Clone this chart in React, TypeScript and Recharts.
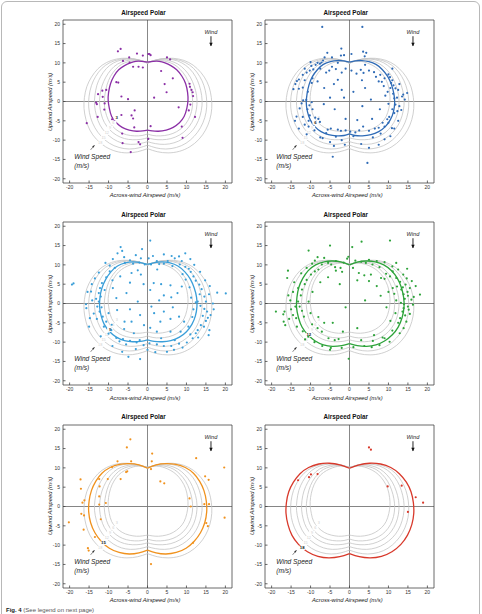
import React from 'react';
import { ScatterChart, Scatter, XAxis, YAxis, ReferenceLine } from 'recharts';

type Pt = [number, number];

const AXIS_TICKS = [-20, -15, -10, -5, 0, 5, 10, 15, 20];
const X_DOMAIN: [number, number] = [-21.7, 21.7];
const Y_DOMAIN: [number, number] = [-21.1, 21.1];

const TITLE = 'Airspeed Polar';
const X_LABEL = 'Across-wind Airspeed (m/s)';
const Y_LABEL = 'Upwind Airspeed (m/s)';
const WIND_SPEEDS = [3, 6, 9, 12, 15, 18];
const PANEL_COLORS = ['#8b2fa6', '#2f6bb6', '#3a9ed8', '#2ea33b', '#f0921e', '#d8392b'];

// polar curves: right half (top cusp -> bottom cusp), then left half (-> top cusp)
const POLAR_3: Pt[] = [[0,10.2],[1.5,10.4],[3.0,10.4],[4.5,10.0],[6.0,9.3],[7.5,8.2],[8.8,6.6],[9.8,4.6],[10.3,2.3],[10.4,0.3],[10.1,-1.8],[9.4,-3.9],[8.2,-5.5],[6.6,-6.7],[4.8,-7.4],[2.8,-7.7],[1.2,-7.6],[0,-7.4],
  [-1.2,-7.6],[-2.8,-7.7],[-4.7,-7.4],[-6.5,-6.7],[-8.0,-5.5],[-9.2,-3.9],[-9.8,-1.8],[-10.1,0.3],[-10.0,2.3],[-9.5,4.6],[-8.6,6.6],[-7.4,8.2],[-5.9,9.3],[-4.4,10.0],[-3.0,10.4],[-1.5,10.4],[0,10.2]];
const POLAR_6: Pt[] = [[0,10.2],[1.5,10.5],[3.2,10.6],[5.0,10.3],[6.8,9.6],[8.4,8.3],[9.8,6.5],[10.8,4.3],[11.4,2.0],[11.6,-0.3],[11.3,-2.6],[10.5,-4.7],[9.2,-6.5],[7.5,-7.8],[5.5,-8.6],[3.3,-8.9],[1.4,-8.8],[0,-8.4],
  [-1.4,-8.8],[-3.3,-8.9],[-5.4,-8.6],[-7.3,-7.8],[-8.9,-6.5],[-10.1,-4.7],[-10.8,-2.6],[-11.1,-0.3],[-10.9,2.0],[-10.4,4.3],[-9.5,6.5],[-8.2,8.3],[-6.7,9.6],[-4.9,10.3],[-3.2,10.6],[-1.5,10.5],[0,10.2]];
const POLAR_9: Pt[] = [[0,10.1],[1.8,10.6],[3.8,10.8],[5.8,10.5],[7.8,9.7],[9.6,8.2],[11.0,6.3],[12.0,4.0],[12.6,1.6],[12.7,-0.8],[12.3,-3.2],[11.4,-5.4],[10.0,-7.3],[8.2,-8.7],[6.0,-9.6],[3.8,-9.9],[1.7,-9.8],[0,-9.4],
  [-1.7,-9.8],[-3.8,-9.9],[-5.9,-9.6],[-8.0,-8.7],[-9.7,-7.3],[-11.1,-5.4],[-11.9,-3.2],[-12.3,-0.8],[-12.2,1.6],[-11.7,4.0],[-10.7,6.3],[-9.4,8.2],[-7.7,9.7],[-5.7,10.5],[-3.8,10.8],[-1.8,10.6],[0,10.1]];
const POLAR_12: Pt[] = [[0,10.0],[2.0,10.7],[4.3,11.0],[6.6,10.8],[8.8,10.0],[10.8,8.5],[12.3,6.5],[13.3,4.2],[13.9,1.6],[14.0,-1.0],[13.5,-3.7],[12.5,-6.1],[11.0,-8.1],[9.0,-9.7],[6.8,-10.7],[4.4,-11.1],[2.0,-10.9],[0,-10.4],
  [-2.0,-10.9],[-4.4,-11.1],[-6.7,-10.7],[-8.8,-9.7],[-10.7,-8.1],[-12.2,-6.1],[-13.1,-3.7],[-13.6,-1.0],[-13.5,1.6],[-13.0,4.2],[-12.0,6.5],[-10.6,8.5],[-8.7,10.0],[-6.5,10.8],[-4.3,11.0],[-2.0,10.7],[0,10.0]];
const POLAR_15: Pt[] = [[0,9.9],[2.2,10.8],[4.8,11.1],[7.3,10.9],[9.7,10.1],[11.8,8.6],[13.4,6.5],[14.5,4.1],[15.1,1.4],[15.2,-1.4],[14.7,-4.2],[13.6,-6.8],[12.0,-9.0],[9.9,-10.8],[7.4,-11.9],[4.7,-12.3],[2.2,-12.0],[0,-11.3],
  [-2.2,-12.0],[-4.7,-12.3],[-7.3,-11.9],[-9.8,-10.8],[-11.9,-9.0],[-13.5,-6.8],[-14.6,-4.2],[-15.1,-1.4],[-15.0,1.4],[-14.4,4.1],[-13.3,6.5],[-11.7,8.6],[-9.6,10.1],[-7.2,10.9],[-4.8,11.1],[-2.2,10.8],[0,9.9]];
const POLAR_18: Pt[] = [[0,9.9],[2.5,10.8],[5.2,11.2],[8.0,11.0],[10.6,10.1],[12.8,8.5],[14.6,6.3],[15.8,3.8],[16.4,1.0],[16.5,-1.8],[16.0,-4.7],[14.9,-7.4],[13.2,-9.8],[10.9,-11.7],[8.2,-12.9],[5.3,-13.3],[2.5,-13.0],[0,-12.2],
  [-2.5,-13.0],[-5.3,-13.3],[-8.1,-12.9],[-10.8,-11.7],[-13.1,-9.8],[-14.8,-7.4],[-15.8,-4.7],[-16.3,-1.8],[-16.2,1.0],[-15.6,3.8],[-14.4,6.3],[-12.7,8.5],[-10.5,10.1],[-7.9,11.0],[-5.2,11.2],[-2.5,10.8],[0,9.9]];
const POLARS = [POLAR_3, POLAR_6, POLAR_9, POLAR_12, POLAR_15, POLAR_18];

const SPEED_LABEL_POS: Pt[] = [[-7.9,-4.2],[-8.75,-5.5],[-9.6,-6.8],[-10.45,-8.1],[-11.3,-9.4],[-12.15,-10.7]];
const WIND_TEXT_POS: Pt = [16.3, 17.9];
const WIND_ARROW: Pt[] = [[16.3, 16.9], [16.3, 14.4]];
const SPEED_TEXT_POS: Pt[] = [[-18.8, -14.4], [-18.8, -16.6]];
const SPEED_TEXT = ['Wind Speed', '(m/s)'];
const SPEED_ARROW: Pt[] = [[-14.6, -12.5], [-13.6, -11.3]];

const OBS_3: Pt[] = [[-7.6,13.0],[-6.9,13.6],[-4.7,11.4],[-2.7,12.4],[-1.2,11.9],[0.2,12.3],[0.5,12.3],[0.8,12.0],[-6.3,10.5],[-4.6,10.1],[-3.7,9.0],[-2.3,9.0],[-1.2,8.8],[5.0,11.4],[5.8,10.9],[3.5,7.9],[4.4,4.5],[6.5,6.0],[4.9,2.4],[-8.0,5.0],[-7.5,4.9],[10.8,4.6],[10.9,3.8],[11.3,3.0],[11.6,2.4],[11.7,1.4],[-11.6,2.8],[-10.6,3.0],[-12.7,1.9],[-11.5,1.2],[-13.2,-0.3],[-13.0,-0.7],[-11.0,-0.5],[-11.1,-2.1],[-6.7,1.3],[-5.0,0.6],[1.7,1.0],[8.0,-1.5],[10.6,-2.3],[11.0,-0.8],[12.2,-4.0],[-12.8,-4.0],[-9.1,-4.6],[-6.7,-3.5],[-3.3,-2.3],[-3.7,-4.4],[-3.4,-6.7],[-6.5,-8.3],[-6.4,-10.8],[-2.3,-10.5],[-1.9,-11.1],[0.2,-9.7],[0.8,-6.4],[9.0,-9.4],[8.8,-6.5],[-15.6,-5.6],[-4.3,-13.1],[-4.1,-3.6]];

const OBS_6: Pt[] = [[-7.0,19.3],[3.3,19.3],[4.6,-15.9],[-4.3,-14.3],[0.5,12.3],[-2.1,13.7],[4.3,12.6],[3.9,11.7],[3.5,12.9],
  [-5.7,12.6],[-6.4,11.4],[-4.5,11.4],[-2.2,11.9],[-1.4,12.0],[-6.8,10.6],[-7.2,10.1],[-7.6,9.8],[-8.2,10.0],[-8.7,9.5],[-9.3,8.3],[-9.8,9.2],[-10.2,8.0],[-11.0,7.5],[-12.0,6.9],[-13.0,5.7],[-13.5,5.3],[-13.9,4.5],[-14.4,3.2],[-13.0,3.3],[-12.0,3.6],[-10.7,2.5],[-9.7,4.8],[-9.5,6.0],[-8.2,5.2],[-7.5,8.5],[-6.0,7.5],[-4.5,9.0],[-3.5,8.4],[-3.0,10.0],[-2.0,7.5],[-1.0,8.5],[0.5,8.0],[1.8,7.2],[2.9,8.2],[3.6,7.4],[4.0,9.5],[5.0,8.0],[6.3,7.6],[6.8,6.4],[7.5,5.2],[8.3,5.1],[7.9,6.9],[9.0,6.0],[10.0,7.0],[10.4,6.3],[11.0,5.5],[10.7,4.8],[11.3,4.2],[11.8,3.4],[10.5,3.5],[12.5,3.0],[11.2,2.0],[12.2,1.0],[13.8,1.8],[14.2,0.5],[11.5,0.8],[10.0,-0.6],[11.8,-0.8],[12.8,-1.2],[11.0,-2.0],[11.5,-3.0],[10.2,-4.0],[9.7,-4.6],[10.0,-5.5],[9.0,-6.5],[8.5,-5.5],[7.5,-6.8],[6.5,-7.0],[5.0,-7.6],[3.5,-6.5],[2.5,-7.5],[1.5,-8.0],[0.2,-7.8],[-1.0,-7.5],[-2.2,-7.6],[-3.0,-7.3],[-4.8,-7.0],[-5.6,-7.3],[-7.6,-5.3],[-8.0,-4.5],[-10.2,-3.6],[-10.8,-2.0],[-10.3,-1.0],[-9.7,-0.2],[-11.1,0.4],[-11.9,0.3],[-12.3,-0.5],[-12.8,-1.8],[-13.6,-3.9],[-14.0,-5.0],[-12.0,-4.0],[-11.5,-6.0],[-10.5,-6.5],[-9.0,-7.5],[-7.5,-9.3],[-6.9,-9.5],[-5.0,-10.5],[-4.0,-11.5],[-2.0,-10.0],[-1.2,-11.2],[1.0,-9.0],[3.0,-11.0],[5.0,-12.0],[7.5,-11.2],[9.0,-9.8],[10.5,-9.0],[11.5,-7.0],[12.5,-5.0],[13.3,-2.2],[13.5,1.3],[12.8,4.5],[14.8,2.2],[7.8,-2.0],[5.8,-4.5],[3.3,-1.2],[2.0,-4.8],[-1.0,-4.5],[-3.8,-2.0],[-5.0,1.0],[-6.6,-0.7],[-2.0,3.0],[-1.4,1.0],[1.0,2.5],[4.0,3.5],[5.5,0.5],[3.2,5.5],[-4.0,4.5],[-3.0,5.6],[-6.5,3.5],[-11.5,5.5],[-10.5,-5.0],[-9.5,-2.0],[-8.8,-4.2],[-11.0,-8.5],[-13.0,-7.0],[-10.0,10.2],[-11.5,8.5],[-5.2,8.0],[8.8,4.0],[9.2,1.5],[10.9,-6.9],[8.0,-8.3],[6.0,-9.3],[-3.5,-9.1],[-6.0,-8.2],[9.8,2.5],[12.3,-2.5],[11.0,8.5]];

const OBS_9: Pt[] = [[0.7,16.3],[-6.9,14.6],[-6.5,13.6],[-1.4,14.1],[-1.7,11.7],[0.3,11.7],[1.4,12.3],[4.2,12.7],[6.2,12.3],[7.0,11.7],[8.1,12.2],[9.7,13.0],[-7.7,13.0],[-8.9,11.5],[-9.7,9.8],[-5.8,10.5],[-3.7,10.3],[-2.1,10.6],[-0.7,10.1],[0.9,10.1],[2.4,11.0],[4.2,10.3],[6.4,9.7],[8.3,10.1],[9.7,9.5],[10.6,9.0],[11.1,8.2],[11.8,7.0],[12.4,5.9],[13.3,4.9],[13.9,3.7],[13.4,2.4],[14.6,1.8],[15.0,0.5],[15.8,2.4],[12.9,0.5],[12.4,0.3],[13.6,-0.6],[14.6,-1.4],[15.3,-2.1],[14.2,-3.2],[15.0,-4.5],[15.5,-3.7],[13.7,-5.6],[12.9,-6.9],[12.4,-7.7],[11.6,-9.0],[10.1,-10.1],[8.1,-10.4],[6.1,-11.0],[4.2,-11.0],[2.4,-10.6],[0.5,-10.3],[-1.0,-10.8],[-2.8,-10.1],[-4.5,-9.7],[-6.3,-9.2],[-8.0,-8.9],[-9.3,-6.9],[-10.6,-4.7],[-11.5,-3.4],[-12.3,-2.1],[-12.9,-0.8],[-12.5,0.5],[-13.2,1.2],[-12.5,2.7],[-12.2,4.0],[-11.7,5.3],[-10.6,6.8],[-9.7,8.3],[-8.4,9.2],[-14.5,3.1],[-15.4,3.0],[-15.8,-0.2],[-15.7,-1.2],[-19.0,5.2],[-19.4,4.9],[20.1,2.6],[17.9,2.8],[15.9,-6.9],[5.0,-12.5],[-1.9,-14.4],[-4.9,-13.8],[-15.0,-6.0],
  [-4.1,7.9],[-1.7,7.5],[-4.5,5.4],[1.6,5.3],[3.5,5.0],[5.9,4.7],[0.7,3.5],[-5.4,2.7],[4.2,2.1],[6.1,1.6],[7.7,2.7],[8.8,4.4],[9.8,6.2],[4.2,-2.1],[1.7,-2.5],[-1.9,-3.0],[-4.1,-4.7],[-0.9,-5.6],[0.7,-6.3],[3.3,-4.7],[5.9,-4.0],[8.1,-3.4],[9.4,-4.7],[8.5,-7.3],[5.9,-7.3],[2.4,-7.3],[-3.5,-7.7],[-5.9,-4.7],[-7.8,-1.7],[-8.0,1.4],[-8.9,4.0],
  [-11.8,-1.0],[-12.0,1.8],[-11.0,3.5],[-13.8,-2.6],[-14.2,0.8],[-13.0,-4.0],[-11.2,-6.0],[-10.0,-7.8],[-7.2,-9.8],[-5.5,-10.6],[-3.0,-11.8],[0.0,-12.0],[2.0,-12.6],[6.8,-12.0],[9.0,-11.4],[11.0,-8.0],[13.0,-8.8],[14.5,-6.0],[16.2,-3.0],[16.8,0.0],[17.0,-1.5],[16.0,4.5],[14.8,6.0],[13.5,8.2],[12.0,10.0],[11.0,11.5],[8.8,11.0],[5.2,11.0],[3.0,10.2],[-3.0,12.5],[-4.5,11.2],[-6.0,12.0],[-10.8,10.5],[-12.5,8.0],[-13.5,6.5],[-14.3,5.0],[-14.8,-3.8],[-12.0,-8.5],[-9.0,-11.0],[-6.5,-12.5],[-2.0,-9.5],[3.5,-9.0],[7.0,-9.5],[10.5,-6.0],[11.5,-3.5],[11.8,-1.5],[11.2,1.5],[10.8,4.2],[9.0,7.6],[-7.0,7.0],[-9.0,6.0],[-10.0,-2.5],[-9.2,-5.5],[-6.0,-6.6],[-2.5,0.5],[1.0,-0.8],[3.0,0.8],[-1.0,5.0],[-4.5,-1.5],[6.5,-1.0],[2.5,8.8],[-2.5,8.6],[15.7,-8.2]];

const OBS_12: Pt[] = [[10.4,16.3],[3.1,16.0],[0.7,14.6],[-5.0,15.0],[-10.5,13.7],[-8.2,12.0],[-8.9,11.1],[-9.6,10.3],[-0.3,12.1],[-0.6,11.6],[4.2,10.5],[5.9,10.1],[7.7,9.4],[-4.7,10.1],[-3.5,8.5],[-1.9,8.2],[-2.3,9.2],[-3.7,9.4],[0.9,9.2],[2.4,7.9],[3.8,7.3],[5.5,7.5],[8.1,6.6],[9.0,6.4],[9.4,7.7],[10.4,7.0],[11.1,8.3],[12.0,6.6],[13.0,5.6],[13.7,4.2],[12.2,4.4],[11.1,4.0],[13.3,3.6],[13.9,2.4],[14.9,3.0],[15.5,4.0],[14.4,4.9],[15.9,1.0],[16.3,-0.3],[15.0,-0.8],[13.9,-1.2],[13.6,-2.1],[14.3,-3.1],[14.6,-4.7],[13.9,-6.4],[12.9,-7.7],[10.3,-9.9],[7.7,-10.8],[5.7,-11.3],[3.8,-11.0],[-0.2,-14.3],[-2.8,-9.2],[-3.8,-9.5],[-5.4,-9.0],[-7.1,-7.3],[-8.2,-6.4],[-9.6,-5.4],[-11.7,-3.4],[-12.2,-1.9],[-12.8,-0.8],[-13.2,0.5],[-12.5,2.1],[-12.2,3.6],[-11.5,5.0],[-11.0,6.1],[-9.9,7.5],[-8.9,8.3],[-8.0,8.8],[-7.1,10.1],[-15.8,8.5],[-16.0,6.6],[-16.7,-2.1],[-17.0,-2.8],[-16.9,-4.7],[-16.5,-5.6],[-18.9,-2.1],[-13.9,-0.8],[-13.7,-3.8],[-15.7,2.1],[-13.2,4.0],[-10.6,-8.6],[-1.7,-7.3],[2.0,-6.4],[-4.3,-5.0],[6.3,-8.2],[9.0,-9.0],[18.1,2.3],[-4.8,-11.5],
  [15.0,2.0],[14.2,1.2],[13.2,0.2],[14.0,-0.2],[15.2,-1.6],[13.0,-3.8],[12.5,-5.0],[15.5,-2.7],[16.5,1.7],[17.0,4.5],[16.0,5.8],[14.7,6.5],[13.8,7.5],[12.5,8.8],[11.0,9.6],[9.0,10.7],[7.0,11.0],[5.0,11.3],[3.0,10.8],[1.5,11.1],[-1.5,10.6],[-3.5,11.0],[-5.5,10.5],[-6.5,11.8],[-11.0,9.2],[-12.4,7.8],[-14.2,5.5],[-14.5,3.0],[-15.2,0.8],[-15.0,-1.5],[-14.5,-3.0],[-15.5,-4.0],[-13.5,-6.0],[-12.0,-7.2],[-11.4,-9.3],[-9.0,-10.0],[-7.0,-11.0],[-5.0,-12.0],[-2.0,-11.5],[1.0,-11.3],[3.0,-9.5],[6.0,-9.7],[8.5,-8.8],[11.0,-7.0],[11.8,-2.5],[12.0,0.8],[11.5,2.5],[10.0,3.0],[8.0,2.0],[7.0,4.5],[5.0,5.8],[2.0,6.0],[-2.5,5.0],[-5.5,6.8],[-7.5,5.5],[-9.5,3.0],[-10.5,0.5],[-10.0,-2.5],[-8.0,-3.5],[-6.5,-5.0],[10.5,-4.5],[9.5,-1.0],[4.0,0.8],[-1.0,-1.0],[12.0,10.5],[14.8,9.0]];

const OBS_15: Pt[] = [[-4.4,17.4],[-5.3,15.3],[-7.7,11.7],[-4.2,11.7],[-5.2,9.1],[-5.5,8.9],[-6.9,7.1],[-9.1,10.2],[-12.4,7.1],[-12.3,5.2],[-10.2,7.1],[-12.4,2.6],[-12.4,0.5],[-12.0,-3.3],[-10.7,0.9],[-13.5,-7.9],[-17.1,4.6],[-17.2,7.0],[-16.7,1.0],[-16.2,1.6],[-17.0,-1.9],[-16.3,-2.3],[-16.4,-6.0],[-20.2,-4.1],[-15.3,-10.8],[-15.1,-11.4],[1.2,13.7],[1.1,11.7],[0.9,9.7],[3.3,6.5],[4.3,6.0],[12.5,12.5],[14.8,7.8],[15.7,6.9],[19.7,10.1],[10.8,2.1],[11.1,0.0],[14.6,0.6],[15.8,0.6],[15.1,-4.3],[15.5,-5.1],[19.8,-2.9],[11.7,-9.4],[0.9,-14.9]];

const OBS_18: Pt[] = [[-13.2,6.8],[-10.4,7.6],[-9.9,8.3],[-8.2,8.4],[5.0,15.3],[5.5,14.7],[9.8,5.2],[13.4,5.4],[17.0,2.4],[18.9,1.0],[15.0,-1.4]];

const OBSERVATIONS = [OBS_3, OBS_6, OBS_9, OBS_12, OBS_15, OBS_18];

const FONT = '"Liberation Sans", Arial, Helvetica, sans-serif';
const BOX_W = 169;
const BOX_H = 163;
const COL_LEFT = [62.5, 264.8];
const ROW_TOP = [20.2, 222.4, 424.6];
const YW = 20;
const MT = 2;
const MR = 2;
const XH = 12;
const AX = 'b';
const AY = 'l';

const toXY = (arr: Pt[]) => arr.map(([x, y]) => ({ x, y }));
const noShape = () => <g />;
const makeDot = (color: string) => (p: any) => <circle cx={p.cx} cy={p.cy} r={1.1} fill={color} />;

function Panel({ idx }: { idx: number }) {
  const col = idx % 2;
  const row = Math.floor(idx / 2);
  const left = COL_LEFT[col];
  const top = ROW_TOP[row];
  const color = PANEL_COLORS[idx];
  const cw = YW + BOX_W + MR;
  const ch = MT + BOX_H + XH;
  const axisStroke = { stroke: '#444', strokeWidth: 0.8 };

  const curveSeries = (k: number, active: boolean) => {
    const loop = POLARS[k];
    const mid = Math.floor(loop.length / 2);
    const halves = [loop.slice(0, mid + 1), loop.slice(mid)];
    return halves.map((h, j) => (
      <Scatter
        key={`c${k}-${j}`}
        xAxisId={AX}
        yAxisId={AY}
        data={toXY(h)}
        line={{ stroke: active ? color : '#c4c4c4', strokeWidth: active ? 1.3 : 0.8 }}
        lineJointType="natural"
        shape={noShape}
        isAnimationActive={false}
      />
    ));
  };

  const others = WIND_SPEEDS.map((_, k) => k).filter((k) => k !== idx);

  return (
    <>
      <div
        style={{
          position: 'absolute', left: left - 3.5, top: top - 10.4, width: BOX_W, textAlign: 'center',
          fontFamily: FONT, fontSize: 6.3, fontWeight: 'bold', lineHeight: 1, color: '#111',
        }}
      >
        {TITLE}
      </div>
      <div
        style={{
          position: 'absolute', left: left - 2, top: top + BOX_H + 10.2, width: BOX_W, textAlign: 'center',
          fontFamily: FONT, fontSize: 5.8, fontStyle: 'italic', lineHeight: 1, color: '#222',
        }}
      >
        {X_LABEL}
      </div>
      <div
        style={{
          position: 'absolute', left: left - 12.5 - BOX_H / 2, top: top + BOX_H / 2 - 2.9, width: BOX_H, height: 5.8,
          textAlign: 'center', fontFamily: FONT, fontSize: 5.8, fontStyle: 'italic', lineHeight: 1, color: '#222',
          transform: 'rotate(-90deg)',
        }}
      >
        {Y_LABEL}
      </div>
      <div style={{ position: 'absolute', left: left - YW, top: top - MT, width: cw, height: ch }}>
        <ScatterChart width={cw} height={ch} margin={{ top: MT, right: MR, bottom: 0, left: 0 }} style={{ fontFamily: FONT }}>
          <XAxis
            xAxisId={AX}
            type="number"
            dataKey="x"
            domain={X_DOMAIN}
            ticks={AXIS_TICKS}
            interval={0}
            allowDataOverflow
            height={XH}
            tickSize={-2.5}
            tickMargin={5}
            tick={{ fontSize: 5, fill: '#333', fontFamily: FONT }}
            axisLine={axisStroke}
            tickLine={axisStroke}
          />
          <XAxis
            xAxisId="t"
            orientation="top"
            mirror
            type="number"
            domain={X_DOMAIN}
            ticks={AXIS_TICKS}
            interval={0}
            allowDataOverflow
            tick={false}
            tickSize={2.5}
            axisLine={axisStroke}
            tickLine={axisStroke}
          />
          <YAxis
            yAxisId={AY}
            type="number"
            dataKey="y"
            domain={Y_DOMAIN}
            ticks={AXIS_TICKS}
            interval={0}
            allowDataOverflow
            width={YW}
            tickSize={-2.5}
            tickMargin={5.5}
            tick={{ fontSize: 5, fill: '#333', fontFamily: FONT }}
            axisLine={axisStroke}
            tickLine={axisStroke}
          />
          <YAxis
            yAxisId="r"
            orientation="right"
            mirror
            type="number"
            domain={Y_DOMAIN}
            ticks={AXIS_TICKS}
            interval={0}
            allowDataOverflow
            tick={false}
            tickSize={2.5}
            axisLine={axisStroke}
            tickLine={axisStroke}
          />
          <ReferenceLine xAxisId={AX} yAxisId={AY} x={0} stroke="#888" strokeWidth={1} />
          <ReferenceLine xAxisId={AX} yAxisId={AY} y={0} stroke="#777" strokeWidth={0.9} />
          {others.map((k) => curveSeries(k, false))}
          {curveSeries(idx, true)}
          {WIND_SPEEDS.map((ws, k) => (
            <Scatter
              key={`lab${k}`}
              xAxisId={AX}
              yAxisId={AY}
              data={toXY([SPEED_LABEL_POS[k]])}
              isAnimationActive={false}
              shape={(p: any) => (
                <g>
                  <rect x={p.cx - 3} y={p.cy - 2.1} width={6} height={4.2} fill="#fff" />
                  <text
                    x={p.cx}
                    y={p.cy}
                    dy="0.36em"
                    textAnchor="middle"
                    fontSize={k === idx ? 4.3 : 3.8}
                    fontFamily={FONT}
                    fontWeight={k === idx ? 'bold' : 'normal'}
                    fill={k === idx ? '#111' : '#cfcfcf'}
                  >
                    {ws}
                  </text>
                </g>
              )}
            />
          ))}
          <Scatter
            xAxisId={AX}
            yAxisId={AY}
            data={toXY(OBSERVATIONS[idx])}
            shape={makeDot(color)}
            isAnimationActive={false}
          />
          <Scatter
            xAxisId={AX}
            yAxisId={AY}
            data={toXY([WIND_TEXT_POS])}
            isAnimationActive={false}
            shape={(p: any) => (
              <text x={p.cx} y={p.cy} dy="0.35em" textAnchor="middle" fontSize={5.6} fontStyle="italic" fontFamily={FONT} fill="#222">
                Wind
              </text>
            )}
          />
          <Scatter
            xAxisId={AX}
            yAxisId={AY}
            data={toXY(WIND_ARROW)}
            line={{ stroke: '#111', strokeWidth: 0.9 }}
            shape={noShape}
            isAnimationActive={false}
          />
          <Scatter
            xAxisId={AX}
            yAxisId={AY}
            data={toXY([WIND_ARROW[1]])}
            isAnimationActive={false}
            shape={(p: any) => (
              <polygon points={`${p.cx - 1.7},${p.cy - 3.2} ${p.cx + 1.7},${p.cy - 3.2} ${p.cx},${p.cy + 0.3}`} fill="#111" />
            )}
          />
          {SPEED_TEXT.map((t, k) => (
            <Scatter
              key={`st${k}`}
              xAxisId={AX}
              yAxisId={AY}
              data={toXY([SPEED_TEXT_POS[k]])}
              isAnimationActive={false}
              shape={(p: any) => (
                <text x={p.cx} y={p.cy} dy="0.35em" textAnchor="start" fontSize={6.6} fontStyle="italic" fontFamily={FONT} fill="#222">
                  {t}
                </text>
              )}
            />
          ))}
          <Scatter
            xAxisId={AX}
            yAxisId={AY}
            data={toXY(SPEED_ARROW)}
            line={{ stroke: '#333', strokeWidth: 0.6 }}
            shape={noShape}
            isAnimationActive={false}
          />
          <Scatter
            xAxisId={AX}
            yAxisId={AY}
            data={toXY([SPEED_ARROW[1]])}
            isAnimationActive={false}
            shape={(p: any) => (
              <polygon
                points={`${p.cx},${p.cy} ${p.cx - 2.4},${p.cy - 1.1} ${p.cx - 2.4},${p.cy + 1.1}`}
                transform={`rotate(-49 ${p.cx} ${p.cy})`}
                fill="#333"
              />
            )}
          />
        </ScatterChart>
      </div>
    </>
  );
}

export default function App() {
  return (
    <div style={{ position: 'absolute', left: 0, top: 0, width: 482, height: 614, overflow: 'hidden', background: '#fff' }}>
      <div
        style={{
          position: 'absolute', left: 1, top: 1, width: 477, height: 660, border: '1px solid #b8b8b8', borderRadius: 6,
        }}
      />
      {WIND_SPEEDS.map((_, i) => (
        <Panel key={i} idx={i} />
      ))}
      <div style={{ position: 'absolute', left: 6, top: 606.8, fontFamily: FONT, fontSize: 6, lineHeight: 1, color: '#555', whiteSpace: 'nowrap' }}>
        <span style={{ fontWeight: 'bold', color: '#222' }}>Fig. 4</span> (See legend on next page)
      </div>
    </div>
  );
}
